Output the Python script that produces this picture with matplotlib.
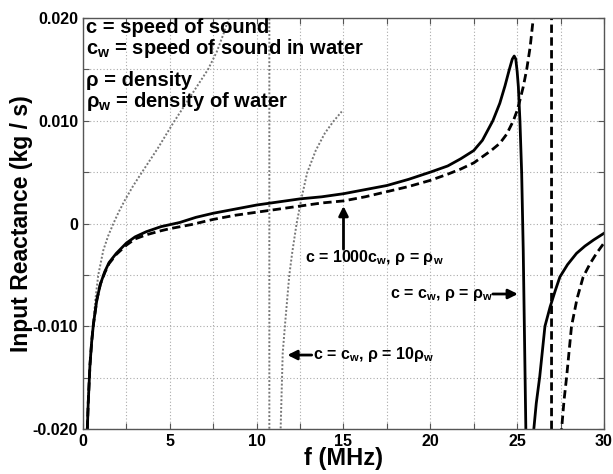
import numpy as np
import matplotlib
matplotlib.use("Agg")
import matplotlib.pyplot as plt
from matplotlib.ticker import MultipleLocator, FuncFormatter

plt.rcParams['font.family'] = ['Liberation Sans', 'DejaVu Sans']
plt.rcParams['font.weight'] = 'bold'
plt.rcParams['mathtext.fontset'] = 'custom'
plt.rcParams['mathtext.rm'] = 'Liberation Sans:bold'
plt.rcParams['mathtext.bf'] = 'Liberation Sans:bold'

# c = cw, rho = rho_w  (solid)
f_solid = [0.25, 0.3, 0.4, 0.5, 0.6, 0.8, 1.0, 1.25, 1.5, 1.92, 2.5, 3.0, 3.64,
           4.5, 5.57, 6.5, 7.5, 8.75, 10, 11.25, 12.5, 13.75, 15, 16.25, 17.5,
           18.75, 20, 21, 21.75, 22.5, 23.0, 23.6, 24.0, 24.3, 24.55, 24.72,
           24.83, 24.92, 25.0, 25.07, 25.16, 25.26, 25.35, 25.5, 25.7, 25.96,
           26.1, 26.3, 26.6, 26.9, 27.2, 27.46, 27.9, 28.42, 28.9, 29.4, 30]
x_solid = [-0.0200, -0.0175, -0.0138, -0.0115, -0.0098, -0.0074, -0.0059,
           -0.0047, -0.0038, -0.0029, -0.0019, -0.0013, -0.0008, -0.0003,
           0.0001, 0.0006, 0.0010, 0.0014, 0.0018, 0.0021, 0.0024, 0.0026,
           0.0029, 0.0033, 0.0037, 0.0043, 0.0050, 0.0056, 0.0063, 0.0071,
           0.0081, 0.0100, 0.0117, 0.0134, 0.0150, 0.0160, 0.0163, 0.0160,
           0.0148, 0.0133, 0.0100, 0.0049, -0.0026, -0.0200, -0.0300,
           -0.0200, -0.0175, -0.0149, -0.0100, -0.0081, -0.0065, -0.0052,
           -0.0040, -0.0029, -0.0022, -0.0016, -0.00095]

# c = 1000 cw, rho = rho_w  (dashed)
f_dash = [0.25, 0.3, 0.4, 0.5, 0.6, 0.8, 1.0, 1.25, 1.5, 1.92, 2.5, 3.0, 3.64,
          4.5, 5.0, 6.25, 7.5, 8.75, 10, 11.25, 12.5, 13.75, 15, 16.25, 17.5,
          18.75, 20, 21, 21.75, 22.5, 23.0, 23.5, 24.0, 24.4, 24.78, 25.0,
          25.16, 25.35, 25.55, 25.75, 25.93, 26.2, 26.5, 26.75, 26.9, 26.98,
          26.98, 27.05, 27.2, 27.4, 27.56, 27.7, 27.85, 28.13, 28.45, 28.8,
          29.2, 29.57, 30]
x_dash = [-0.0200, -0.0175, -0.0138, -0.0115, -0.0098, -0.0074, -0.0059,
          -0.0048, -0.0039, -0.0030, -0.0021, -0.0015, -0.0011, -0.0007,
          -0.0005, -0.0001, 0.0004, 0.0008, 0.0011, 0.0014, 0.0017, 0.0020,
          0.0022, 0.0026, 0.0031, 0.0036, 0.0042, 0.0048, 0.0053, 0.0059,
          0.0065, 0.0071, 0.0078, 0.0087, 0.0100, 0.0110, 0.0120, 0.0133,
          0.0150, 0.0172, 0.0200, 0.026, 0.036, 0.060, 0.120, 0.400, -0.400,
          -0.120, -0.060, -0.030, -0.0200, -0.0172, -0.0149, -0.0100, -0.0073,
          -0.0052, -0.0039, -0.0029, -0.0019]

# c = cw, rho = 10 rho_w  (dotted)
f_dot = [0.22, 0.35, 0.45, 0.58, 0.72, 0.88, 1.17, 1.45, 1.75, 2.05, 2.42, 2.9,
         3.4, 4.3, 5.2, 6.2, 7.2, 7.7, 8.1, 8.4, 8.9, 9.5, 10.0, 10.4, 10.73,
         10.73, 10.95, 11.15, 11.38, 11.5, 11.65, 11.88, 12.05, 12.3, 12.6,
         12.9, 13.4, 13.93, 14.4, 14.9]
x_dot = [-0.0200, -0.0155, -0.0125, -0.0100, -0.0073, -0.0050, -0.0026,
         -0.0012, 0.0000, 0.0011, 0.0023, 0.0037, 0.0050, 0.0073, 0.0098,
         0.0124, 0.0150, 0.0167, 0.0185, 0.0200, 0.0235, 0.030, 0.042, 0.070,
         0.500, -0.500, -0.060, -0.035, -0.0200, -0.0126, -0.0095, -0.0050,
         -0.0028, 0.0000, 0.0026, 0.0049, 0.0071, 0.0088, 0.0099, 0.0109]

fig = plt.figure(figsize=(6.13, 4.74), dpi=100)
ax = fig.add_axes([0.1354, 0.0949, 0.8499, 0.8671])

ax.plot(f_dot, x_dot, color='#777777', linestyle=(0, (1, 1)), linewidth=1.4)
ax.plot(f_dash, x_dash, color='black', linestyle=(0, (3, 1.6)), linewidth=2.0)
ax.plot(f_solid, x_solid, color='black', linestyle='-', linewidth=2.0)

ax.set_xlim(0, 30)
ax.set_ylim(-0.020, 0.020)
ax.xaxis.set_major_locator(MultipleLocator(2.5))
ax.yaxis.set_major_locator(MultipleLocator(0.005))


def xfmt(v, pos):
    if abs(v / 5 - round(v / 5)) < 1e-6:
        return '%d' % round(v)
    return ''


def yfmt(v, pos):
    k = round(v / 0.005)
    if k % 2 != 0:
        return ''
    if k == 0:
        return '0'
    return '%.3f' % v


ax.xaxis.set_major_formatter(FuncFormatter(xfmt))
ax.yaxis.set_major_formatter(FuncFormatter(yfmt))
ax.tick_params(direction='in', top=True, right=True, length=4, width=0.8,
               labelsize=11.5, color='#555555')
for lab in ax.get_xticklabels() + ax.get_yticklabels():
    lab.set_fontweight('bold')
ax.grid(True, color='#aaaaaa', linestyle=(0, (1, 2)), linewidth=0.8)
for s in ax.spines.values():
    s.set_color('#555555')
    s.set_linewidth(1.0)

ax.set_xlabel('f (MHz)', fontsize=17, fontweight='bold', labelpad=-1)
ax.set_ylabel('Input Reactance (kg / s)', fontsize=16.5, fontweight='bold', labelpad=0)

# notes in the upper left
notes = ['c = speed of sound',
         r'c$_\mathrm{w}$ = speed of sound in water',
         'ρ = density',
         r'ρ$_\mathrm{w}$ = density of water']
ny = [0.9635, 0.912, 0.834, 0.783]
for t, yy in zip(notes, ny):
    ax.text(0.006, yy, t, transform=ax.transAxes, fontsize=14.5, fontweight='bold',
            va='baseline', ha='left')

aprops = dict(arrowstyle='-|>', color='black', lw=2, mutation_scale=14,
              shrinkA=0, shrinkB=0)

ax.text(12.78, -0.00372, r'c = 1000c$_\mathrm{w}$, ρ = ρ$_\mathrm{w}$',
        fontsize=11.5, fontweight='bold', ha='left', va='baseline')
ax.annotate('', xy=(15, 0.0017), xytext=(15, -0.0025), arrowprops=aprops)

ax.text(17.67, -0.00728, r'c = c$_\mathrm{w}$, ρ = ρ$_\mathrm{w}$',
        fontsize=11.5, fontweight='bold', ha='left', va='baseline')
ax.annotate('', xy=(25.04, -0.00686), xytext=(23.6, -0.00686), arrowprops=aprops)

ax.text(13.25, -0.0132, r'c = c$_\mathrm{w}$, ρ = 10ρ$_\mathrm{w}$',
        fontsize=11.5, fontweight='bold', ha='left', va='baseline')
ax.annotate('', xy=(11.77, -0.0128), xytext=(13.17, -0.0128), arrowprops=aprops)

fig.savefig('out.png', dpi=100)
